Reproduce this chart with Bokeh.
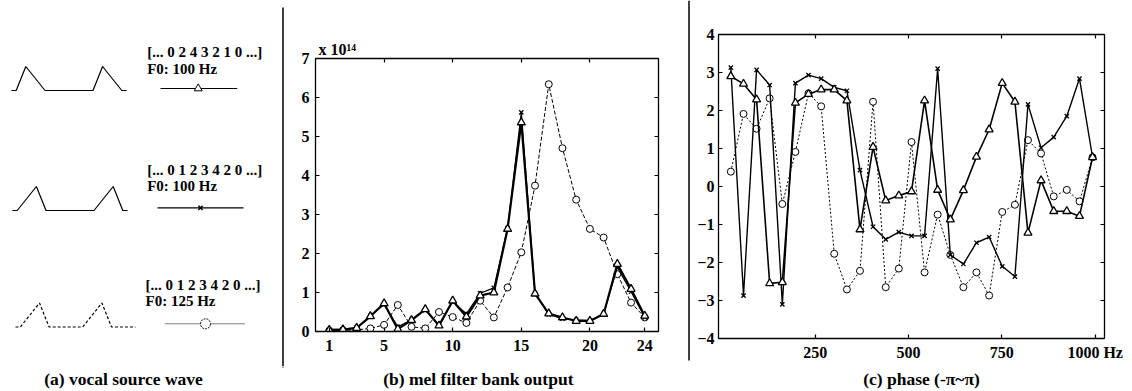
import numpy as np
from bokeh.plotting import figure
from bokeh.layouts import row, column
from bokeh.models import Range1d, LinearAxis, FixedTicker, CustomJSTickFormatter
from bokeh.embed import file_html
from bokeh.resources import INLINE
from bokeh.core.properties import value

FONT = "Liberation Serif"

# ---------------- data ----------------
# (a) vocal source waves
seq_a1 = [0, 2, 4, 3, 2, 1, 0]
seq_a2 = [0, 1, 2, 3, 4, 2, 0]
seq_a3 = [0, 1, 2, 3, 4, 2, 0]
f0_values = [100, 100, 125]
seq_labels = ["[... 0 2 4 3 2 1 0 ...]", "[... 0 1 2 3 4 2 0 ...]", "[... 0 1 2 3 4 2 0 ...]"]
f0_labels = ["F0: 100 Hz", "F0: 100 Hz", "F0: 125 Hz"]
captions = ["(a) vocal source wave", "(b) mel filter bank output", "(c) phase (-\u03c0~\u03c0)"]

# (b) mel filter bank output (x 10^14)
mel_ch = list(range(1, 25))
mel_tri = [0.04, 0.05, 0.09, 0.39, 0.72, 0.06, 0.29, 0.57, 0.15, 0.79, 0.38, 0.92,
           1.00, 2.63, 5.36, 0.97, 0.46, 0.36, 0.27, 0.27, 0.45, 1.73, 1.09, 0.40]
mel_x = [0.05, 0.06, 0.10, 0.40, 0.70, 0.12, 0.30, 0.55, 0.16, 0.77, 0.45, 0.98,
         1.12, 2.65, 5.62, 0.98, 0.44, 0.33, 0.30, 0.28, 0.45, 1.65, 1.02, 0.36]
mel_o = [0.02, 0.03, 0.04, 0.08, 0.17, 0.68, 0.12, 0.08, 0.50, 0.37, 0.22, 0.79,
         0.36, 1.13, 2.03, 3.74, 6.34, 4.70, 3.38, 2.63, 2.41, 1.47, 0.74, 0.36]
mel_xticks = [1, 5, 10, 15, 20, 24]
mel_scale_label = "x 10\u00b9\u2074"

# (c) phase
ph_freq = [24, 58, 93, 128, 162, 197, 232, 266, 301, 335, 370, 405, 439, 474, 508,
           543, 578, 612, 647, 682, 716, 751, 785, 820, 855, 889, 924, 958, 993]
ph_tri = [2.90, 2.70, 2.29, -2.55, -2.52, 2.20, 2.43, 2.55, 2.55, 2.26, -1.13, 1.04,
          -0.37, -0.24, -0.13, 2.26, -0.09, -0.87, -0.10, 0.78, 1.50, 2.72, 2.23,
          -1.22, 0.16, -0.65, -0.65, -0.78, 0.77]
ph_x = [3.13, -2.87, 3.07, 2.67, -3.10, 2.72, 2.93, 2.84, 2.61, 2.52, 0.43, -1.06,
        -1.39, -1.20, -1.30, -1.30, 3.10, -1.80, -2.04, -1.48, -1.33, -2.10, -2.37,
        2.16, 1.02, 1.30, 1.85, 2.84, 0.77]
ph_o = [0.39, 1.91, 1.52, 2.32, -0.46, 0.91, 2.45, 2.11, -1.77, -2.71, -2.22, 2.23,
        -2.65, -2.16, 1.17, -2.26, -0.74, -1.80, -2.65, -2.26, -2.87, -0.67, -0.48,
        1.22, 0.87, -0.26, -0.09, -0.39, 0.77]
ph_xticks = [250, 500, 750, 1000]
ph_unit = "Hz"

TOP_H = 366
CAP_H = 25

# ---------------- panel (a) ----------------
pa = figure(width=284, height=TOP_H, x_range=Range1d(0, 284), y_range=Range1d(TOP_H, 0),
            x_axis_location=None, y_axis_location=None, toolbar_location=None,
            output_backend="svg", min_border=0, outline_line_color=None)
pa.frame_align = False
pa.grid.visible = False

fs = 1600.0          # samples per second of the drawn pulse train
step = 4.8           # px per sample
amp = 6.0            # px per level


def pulse_train(seq, f0, n_total):
    period = int(round(fs / f0))
    y = np.zeros(n_total)
    for start in (1, 1 + period):
        y[start:start + len(seq)] = seq
    return y


waves = [pulse_train(seq_a1, f0_values[0], 25),
         pulse_train(seq_a2, f0_values[1], 25),
         pulse_train(seq_a3, f0_values[2], 26)]
wave_x0 = [10.9, 11.9, 15.0]
wave_base = [90, 210, 326.5]
wave_dash = ["solid", "solid", "3 2"]
for w, x0, b, d in zip(waves, wave_x0, wave_base, wave_dash):
    xs = x0 + step * np.arange(len(w))
    pa.line(xs, b - amp * w, line_color="black", line_width=1.2, line_dash=d)

# legend samples
pa.line([160, 236.7], [88, 88], line_color="black", line_width=1.2)
pa.scatter([197.7], [88], marker="triangle", size=8, fill_color="white", line_color="black")
pa.line([157, 243], [207.3, 207.3], line_color="black", line_width=1.2)
pa.scatter([200], [207.3], marker="x", size=6, line_color="black", line_width=1.5)
pa.line([165, 245], [323.3, 323.3], line_color="black", line_width=1, line_dash="1 1")
pa.scatter([205], [323.3], marker="circle", size=10, fill_color="white",
           line_color="black", line_dash="2 1")

pa.text(x=[146.7, 146.7, 145], y=[51, 169, 284], text=seq_labels,
        text_font=value(FONT), text_font_size=value("15px"), text_font_style="bold",
        text_baseline="middle", text_align="left", text_color="black")
pa.text(x=[146.7, 146.7, 145], y=[68, 185, 300], text=f0_labels,
        text_font=value(FONT), text_font_size=value("15px"), text_font_style="bold",
        text_baseline="middle", text_align="left", text_color="black")
# separator
pa.line([282.5, 282.5], [7, TOP_H], line_color="black", line_width=1.5)


def style_axes(p, xticks, yticks, xticks_top, yticks_right, xstand, ystand):
    bottom = p.below[0]
    left = p.left[0]
    for ax in (bottom, left):
        ax.major_tick_in = 4
        ax.major_tick_out = 0
        ax.minor_tick_line_color = None
        ax.axis_line_color = "black"
        ax.axis_line_width = 1.3
        ax.major_tick_line_color = "black"
        ax.major_tick_line_width = 1.2
        ax.major_label_text_font = FONT
        ax.major_label_text_font_size = "16px"
        ax.major_label_text_font_style = "bold"
        ax.major_label_text_color = "black"
    bottom.ticker = FixedTicker(ticks=xticks)
    left.ticker = FixedTicker(ticks=yticks)
    bottom.major_label_standoff = xstand
    left.major_label_standoff = ystand
    common = dict(major_tick_in=4, major_tick_out=0, minor_tick_line_color=None,
                  major_label_text_font_size="0px", major_label_text_color=None,
                  major_label_standoff=0, axis_line_width=1.3, major_tick_line_width=1.2)
    top = LinearAxis(ticker=FixedTicker(ticks=xticks_top), **common)
    right = LinearAxis(ticker=FixedTicker(ticks=yticks_right), **common)
    p.add_layout(top, "above")
    p.add_layout(right, "right")
    p.grid.visible = False
    p.outline_line_color = "black"
    p.frame_align = False
    return bottom, left


# ---------------- panel (b) ----------------
pb = figure(frame_width=343, frame_height=273, x_range=Range1d(0, 25), y_range=Range1d(0, 7),
            toolbar_location=None, output_backend="svg", title=mel_scale_label,
            min_border_left=31, min_border_right=29, min_border_top=58,
            min_border_bottom=TOP_H - 58 - 273)
pb.title.align = "left"
pb.title.offset = 3
pb.title.standoff = 2
pb.title.text_font = FONT
pb.title.text_font_size = "16px"
pb.title.text_font_style = "bold"
pb.title.text_color = "black"
style_axes(pb, mel_xticks, list(range(0, 8)), [5, 10, 15, 20], list(range(0, 8)), 8, 6)

pb.line(mel_ch, mel_o, line_color="black", line_width=1, line_dash="4 2")
pb.scatter(mel_ch, mel_o, marker="circle", size=7, fill_color="white", line_color="black", line_width=1)
pb.line(mel_ch, mel_x, line_color="black", line_width=1.2)
pb.scatter(mel_ch, mel_x, marker="x", size=6, line_color="black", line_width=1.3)
pb.line(mel_ch, mel_tri, line_color="black", line_width=2.2)
pb.scatter(mel_ch, mel_tri, marker="triangle", size=8, fill_color="white", line_color="black", line_width=1.3)

# ---------------- separator ----------------
ps = figure(width=3, height=TOP_H, x_range=Range1d(0, 3), y_range=Range1d(TOP_H, 0),
            x_axis_location=None, y_axis_location=None, toolbar_location=None,
            output_backend="svg", min_border=0, outline_line_color=None)
ps.frame_align = False
ps.grid.visible = False
ps.line([1.5, 1.5], [0, 360], line_color="black", line_width=1.5)

# ---------------- panel (c) ----------------
pc = figure(frame_width=386, frame_height=304, x_range=Range1d(-9, 1025), y_range=Range1d(-4, 4),
            toolbar_location=None, output_backend="svg",
            min_border_left=28, min_border_right=28, min_border_top=34,
            min_border_bottom=TOP_H - 34 - 304)
pc_bottom, _ = style_axes(pc, ph_xticks, list(range(-4, 5)), ph_xticks, list(range(-3, 4)), 5, 4)
pc_bottom.formatter = CustomJSTickFormatter(
    args=dict(last=max(ph_xticks), unit=ph_unit),
    code="return (tick == last) ? String(tick) + ' ' + unit : String(tick);")

pc.line(ph_freq, ph_o, line_color="black", line_width=1, line_dash="2 2")
pc.scatter(ph_freq, ph_o, marker="circle", size=7, fill_color="white", line_color="black", line_width=1)
pc.line(ph_freq, ph_x, line_color="black", line_width=1.4)
pc.scatter(ph_freq, ph_x, marker="x", size=6, line_color="black", line_width=1.3)
pc.line(ph_freq, ph_tri, line_color="black", line_width=1.6)
pc.scatter(ph_freq, ph_tri, marker="triangle", size=8, fill_color="white", line_color="black", line_width=1.3)

# ---------------- captions row ----------------
pcap = figure(width=1132, height=CAP_H, x_range=Range1d(0, 1132), y_range=Range1d(TOP_H + CAP_H, TOP_H),
              x_axis_location=None, y_axis_location=None, toolbar_location=None,
              output_backend="svg", min_border=0, outline_line_color=None)
pcap.frame_align = False
pcap.grid.visible = False
pcap.text(x=[123, 478, 921], y=[378, 378, 378], text=captions,
          text_font=value(FONT), text_font_size=value("17.5px"), text_font_style="bold",
          text_baseline="middle", text_align="center", text_color="black")
pcap.line([282.5, 282.5], [TOP_H, 367], line_color="black", line_width=1.5)

layout = column(row(pa, pb, ps, pc, spacing=0), pcap, spacing=0)
open("out.html", "w").write(file_html(layout, INLINE))
